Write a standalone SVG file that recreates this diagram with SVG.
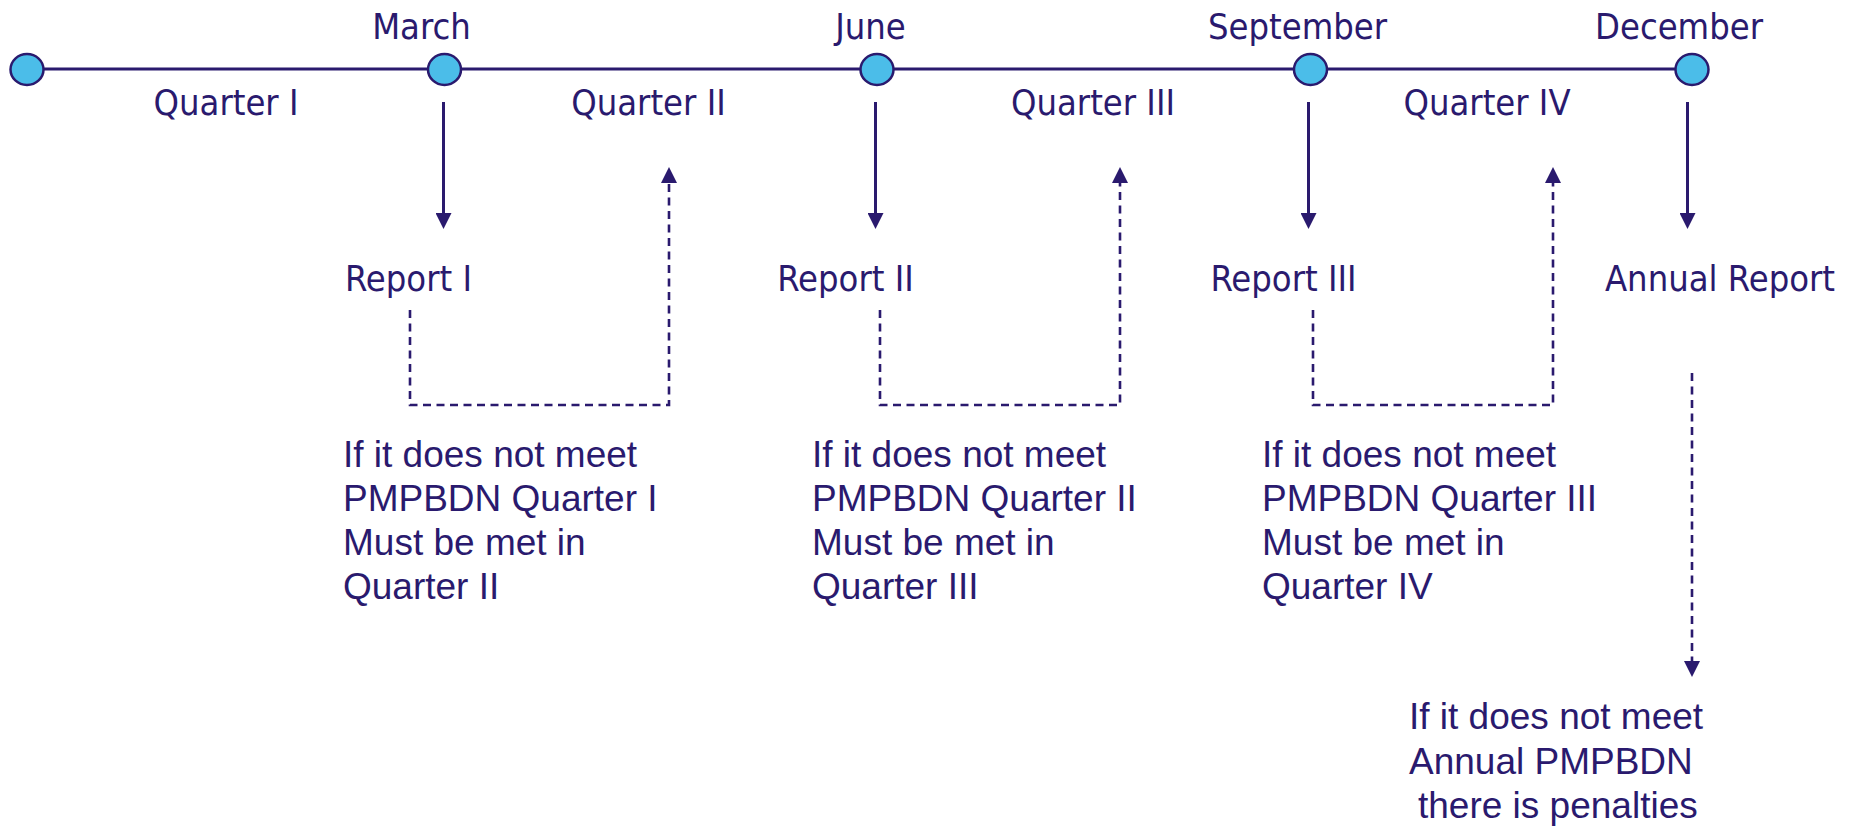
<svg xmlns="http://www.w3.org/2000/svg" width="1859" height="827" viewBox="0 0 1859 827">
<style>
.lbl{font-family:"DejaVu Sans Condensed","DejaVu Sans",sans-serif;font-size:36px;fill:#2a1a6e;text-anchor:middle}
.note{font-family:"Liberation Sans",Arial,sans-serif;font-size:37px;fill:#2a1a6e}
.dot{fill:#4bbde9;stroke:#2a1a6e;stroke-width:2.5}
.solid{fill:none;stroke:#2a1a6e;stroke-width:3;marker-end:url(#ah)}
.dash{fill:none;stroke:#2a1a6e;stroke-width:2.6;stroke-dasharray:8 5.5;marker-end:url(#ah)}
</style>
<defs>
<marker id="ah" viewBox="0 0 16 16" refX="0" refY="8" markerWidth="16" markerHeight="16" markerUnits="userSpaceOnUse" orient="auto">
<path d="M0,0 L16,8 L0,16 z" fill="#2a1a6e"/>
</marker>
</defs>
<rect width="1859" height="827" fill="#ffffff"/>
<g id="connectors">
<line x1="27" y1="69" x2="1692" y2="69" stroke="#2a1a6e" stroke-width="3.2"/>
<path class="solid" d="M443.5,102 V213"/>
<path class="solid" d="M875.5,102 V213"/>
<path class="solid" d="M1308.5,102 V213"/>
<path class="solid" d="M1687.5,102 V213"/>
<path class="dash" d="M410,310 V405 H669 V183"/>
<path class="dash" d="M880,310 V405 H1120 V183"/>
<path class="dash" d="M1313,310 V405 H1553 V183"/>
<path class="dash" d="M1692,373 V661"/>
</g>
<g id="node-start"><ellipse class="dot" cx="27" cy="69.5" rx="16.5" ry="15.5"/></g>
<g id="node-march"><ellipse class="dot" cx="444.5" cy="69.5" rx="16.5" ry="15.5"/><text class="lbl" x="421.5" y="39">March</text></g>
<g id="node-june"><ellipse class="dot" cx="877" cy="69.5" rx="16.5" ry="15.5"/><text class="lbl" x="870.5" y="39">June</text></g>
<g id="node-september"><ellipse class="dot" cx="1310.5" cy="69.5" rx="16.5" ry="15.5"/><text class="lbl" x="1297.5" y="39">September</text></g>
<g id="node-december"><ellipse class="dot" cx="1692" cy="69.5" rx="16.5" ry="15.5"/><text class="lbl" x="1679" y="39">December</text></g>
<g id="quarter-1"><text class="lbl" x="226" y="115">Quarter I</text></g>
<g id="quarter-2"><text class="lbl" x="648.5" y="115">Quarter II</text></g>
<g id="quarter-3"><text class="lbl" x="1093" y="115">Quarter III</text></g>
<g id="quarter-4"><text class="lbl" x="1487" y="115">Quarter IV</text></g>
<g id="report-1"><text class="lbl" x="408.5" y="291">Report I</text></g>
<g id="report-2"><text class="lbl" x="845.5" y="291">Report II</text></g>
<g id="report-3"><text class="lbl" x="1283.5" y="291">Report III</text></g>
<g id="report-annual"><text class="lbl" x="1720" y="291">Annual Report</text></g>
<g id="note-1"><text class="note" x="343" y="467"><tspan x="343">If it does not meet</tspan><tspan x="343" y="511">PMPBDN Quarter I</tspan><tspan x="343" y="555">Must be met in</tspan><tspan x="343" y="599">Quarter II</tspan></text></g>
<g id="note-2"><text class="note" x="812" y="467"><tspan x="812">If it does not meet</tspan><tspan x="812" y="511">PMPBDN Quarter II</tspan><tspan x="812" y="555">Must be met in</tspan><tspan x="812" y="599">Quarter III</tspan></text></g>
<g id="note-3"><text class="note" x="1262" y="467"><tspan x="1262">If it does not meet</tspan><tspan x="1262" y="511">PMPBDN Quarter III</tspan><tspan x="1262" y="555">Must be met in</tspan><tspan x="1262" y="599">Quarter IV</tspan></text></g>
<g id="note-annual"><text class="note" x="1409" y="729"><tspan x="1409">If it does not meet</tspan><tspan x="1409" y="774">Annual PMPBDN</tspan><tspan x="1418" y="818">there is penalties</tspan></text></g>
</svg>
